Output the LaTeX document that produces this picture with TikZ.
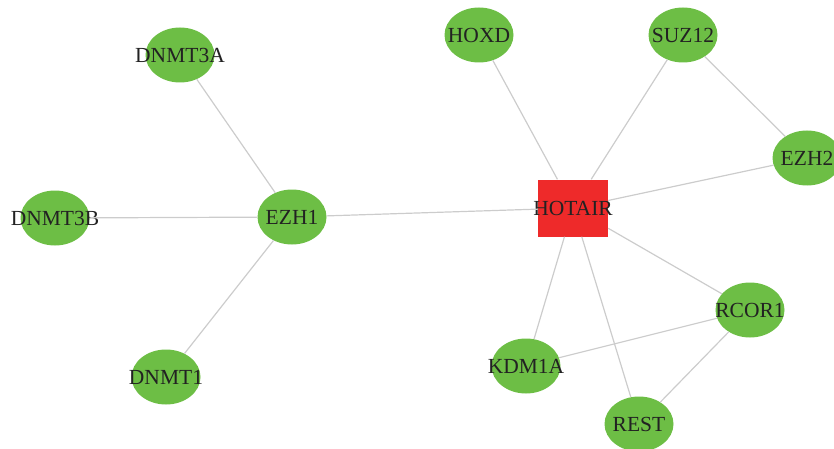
\documentclass[tikz,border=0pt]{standalone}
\usepackage{fontspec}
\setmainfont{Liberation Serif}
\usetikzlibrary{shapes.geometric}
\definecolor{gnode}{HTML}{6DBE45}
\definecolor{rnode}{HTML}{EE2A2A}
\definecolor{edgec}{HTML}{CCCCCC}
\definecolor{txt}{HTML}{222222}
\tikzset{
  gene/.style={ellipse, fill=gnode, draw=none, minimum width=69pt, minimum height=55pt, inner sep=0pt,
    font=\fontsize{21.5}{21.5}\selectfont, text=txt},
  lnc/.style={rectangle, fill=rnode, draw=none, minimum width=70pt, minimum height=57pt, inner sep=0pt,
    font=\fontsize{21.5}{21.5}\selectfont, text=txt},
  link/.style={draw=edgec, line width=1.2pt}
}
\newcommand{\zw}[1]{\makebox[0pt]{#1}}
\begin{document}
\begin{tikzpicture}[x=1pt,y=-1pt]
\useasboundingbox (0,0) rectangle (834,449);
\clip (0,0) rectangle (834,449);
\node[gene] (dnmt3a) at (180,55) {\zw{DNMT3A}};
\node[gene] (dnmt3b) at (55,218) {\zw{DNMT3B}};
\node[gene] (ezh1) at (292,217) {\zw{EZH1}};
\node[gene] (dnmt1) at (166,377) {\zw{DNMT1}};
\node[gene] (hoxd) at (479,35) {\zw{HOXD}};
\node[gene] (suz12) at (683,35) {\zw{SUZ12}};
\node[gene] (ezh2) at (807,158) {\zw{EZH2}};
\node[lnc] (hotair) at (573,208) {\zw{HOTAIR}};
\node[gene] (rcor1) at (750,310) {\zw{RCOR1}};
\node[gene] (kdm1a) at (526,366) {\zw{KDM1A}};
\node[gene] (rest) at (639,424) {\zw{REST}};
\draw[link] (dnmt3a) -- (ezh1);
\draw[link] (dnmt3b) -- (ezh1);
\draw[link] (dnmt1) -- (ezh1);
\draw[link] (ezh1) -- (hotair);
\draw[link] (hoxd) -- (hotair);
\draw[link] (suz12) -- (hotair);
\draw[link] (suz12) -- (ezh2);
\draw[link] (ezh2) -- (hotair);
\draw[link] (hotair) -- (rcor1);
\draw[link] (hotair) -- (kdm1a);
\draw[link] (hotair) -- (rest);
\draw[link] (kdm1a) -- (rcor1);
\draw[link] (rcor1) -- (rest);
\end{tikzpicture}
\end{document}
